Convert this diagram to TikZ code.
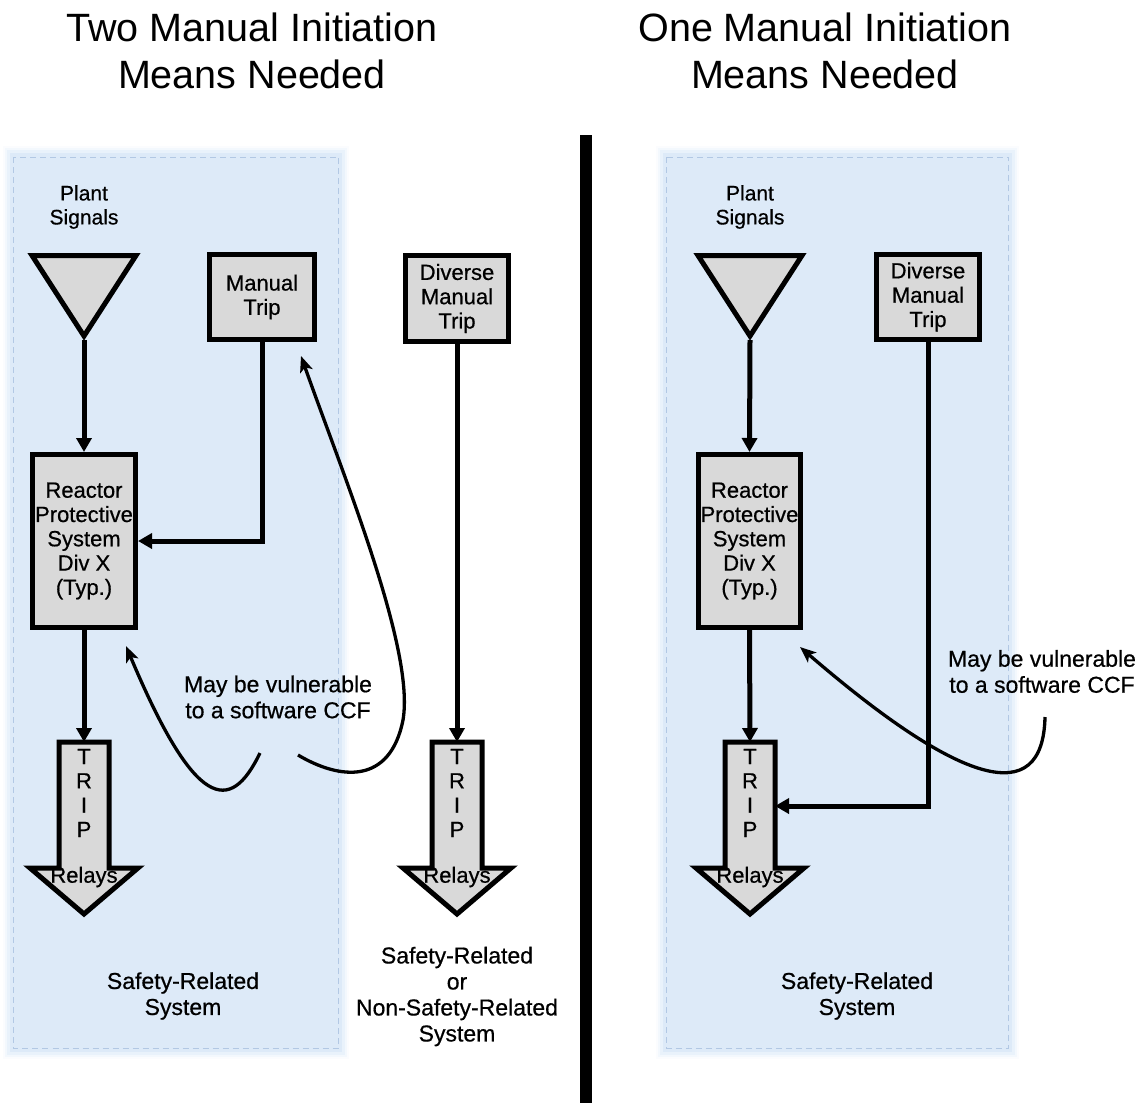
\documentclass[tikz,border=0pt]{standalone}
\usepackage{fontspec}
\setmainfont{Liberation Sans}
\newfontfamily\heavyf[FakeBold=0.6]{Liberation Sans}
\usetikzlibrary{arrows.meta}
\definecolor{panelblue}{RGB}{221,234,248}
\definecolor{paneledge}{RGB}{178,200,228}
\definecolor{boxgray}{RGB}{217,217,217}
\newcommand\bodyf{\heavyf\fontsize{22}{24.3}\selectfont}
\newcommand\notef{\heavyf\fontsize{23}{26}\selectfont}
\newcommand\plantf{\heavyf\fontsize{21}{24}\selectfont}
\newcommand\titlef{\fontsize{39.5}{47}\selectfont}
\begin{document}
\begin{tikzpicture}[x=1pt,y=-1pt,
  box/.style={draw, line width=5pt, fill=boxgray, align=center, font=\bodyf, inner sep=0pt},
  conn/.style={line width=5pt, line join=miter, -{Triangle[length=14pt,width=15pt]}},
  curvearrow/.style={line width=3.3pt, -{Stealth[length=16pt,width=13pt,inset=4pt]}},
  lbl/.style={align=center, font=\bodyf, inner sep=0pt},
  ttl/.style={align=center, font=\titlef, inner sep=0pt},
  shapeline/.style={draw, line width=5pt, fill=boxgray, line join=miter}
]
\useasboundingbox (0,0) rectangle (1142,1103);

% panels
\foreach \xa/\xb in {10/342, 663/1012}{
  \foreach \d/\o in {7/0.12, 5/0.25, 3/0.45}{
    \fill[panelblue, opacity=\o] (\xa-\d,153-\d) rectangle (\xb+\d,1052+\d);
  }
  \fill[panelblue] (\xa,153) rectangle (\xb,1052);
  \draw[paneledge, dashed, line width=1pt, dash pattern=on 6pt off 4pt] (\xa+3.5,157) rectangle (\xb-3.5,1048);
}

% divider
\draw[line width=12pt] (586,135) -- (586,1103);

% titles
\node[ttl] (t1) at (252,50.5) {Two Manual Initiation\\Means Needed};
\node[ttl] (t2) at (825,50.5) {One Manual Initiation\\Means Needed};

% triangles (plant signals)
\foreach \cx/\nm in {84/psA, 750/psB}{
  \draw[shapeline] (\cx-52,255.5) -- (\cx+52,255.5) -- (\cx,336) -- cycle;
  \coordinate (\nm tip) at (\cx,340);
  \node[lbl, font=\plantf] (\nm lbl) at (\cx,207) {Plant\\Signals};
}

% trip block arrows
\foreach \cx/\nm in {84/ta, 457/tb, 750/tc}{
  \draw[shapeline] (\cx-25,742) -- (\cx+25,742) -- (\cx+25,868) -- (\cx+54,868) -- (\cx,914) -- (\cx-54,868) -- (\cx-25,868) -- cycle;
  \coordinate (\nm top) at (\cx,742);
  \coordinate (\nm r) at (\cx+25,806);
  \node[lbl] (\nm letters) at (\cx,793) {T\\R\\I\\P};
  \node[lbl] (\nm relays) at (\cx,877) {Relays};
}

% boxes
\node[box, minimum width=103pt, minimum height=173pt] (rpsA) at (84,541) {Reactor\\Protective\\System\\Div X\\(Typ.)};
\node[box, minimum width=105pt, minimum height=85pt] (mtA) at (262,297) {Manual\\Trip};
\node[box, minimum width=103pt, minimum height=86pt] (dmA) at (457,298.5) {Diverse\\Manual\\Trip};
\node[box, minimum width=102pt, minimum height=173pt] (rpsB) at (749.5,541) {Reactor\\Protective\\System\\Div X\\(Typ.)};
\node[box, minimum width=103pt, minimum height=85pt] (dmB) at (928,297) {Diverse\\Manual\\Trip};

% connectors
\draw[conn] (psAtip) -- (rpsA.north);
\draw[conn] (mtA.south) |- (rpsA.east);
\draw[conn] (rpsA.south) -- (tatop);
\draw[conn] (dmA.south) -- (tbtop);
\draw[conn] (psBtip) -- (rpsB.north);
\draw[conn] (rpsB.south) -- (tctop);
\draw[conn] (dmB.south) |- (tcr);

% vulnerability notes
\node[lbl, font=\notef] (vA) at (278,697) {May be vulnerable\\to a software CCF};
\node[lbl, font=\notef] (vB) at (1042,671.5) {May be vulnerable\\to a software CCF};
\coordinate (vAl) at (260,753);
\coordinate (vAr) at (298,755);
\coordinate (vBs) at (1045,717);
\coordinate (rpsAhit) at (126,646);
\coordinate (mtAhit) at (301,356);
\coordinate (rpsBhit) at (800,647);
\draw[curvearrow] (vAl) .. controls (230,815) and (195,810) .. (rpsAhit);
\draw[curvearrow] (vAr) .. controls (340,780) and (390,785) .. (403,720) .. controls (415,650) and (345,480) .. (mtAhit);
\draw[curvearrow] (vBs) .. controls (1043,810) and (960,785) .. (rpsBhit);

% system labels
\node[lbl, font=\notef] (srA) at (183,996) {Safety-Related\\System};
\node[lbl, font=\notef] (srMid) at (457,996.5) {Safety-Related\\or\\Non-Safety-Related\\System};
\node[lbl, font=\notef] (srB) at (857,996) {Safety-Related\\System};
\end{tikzpicture}
\end{document}
